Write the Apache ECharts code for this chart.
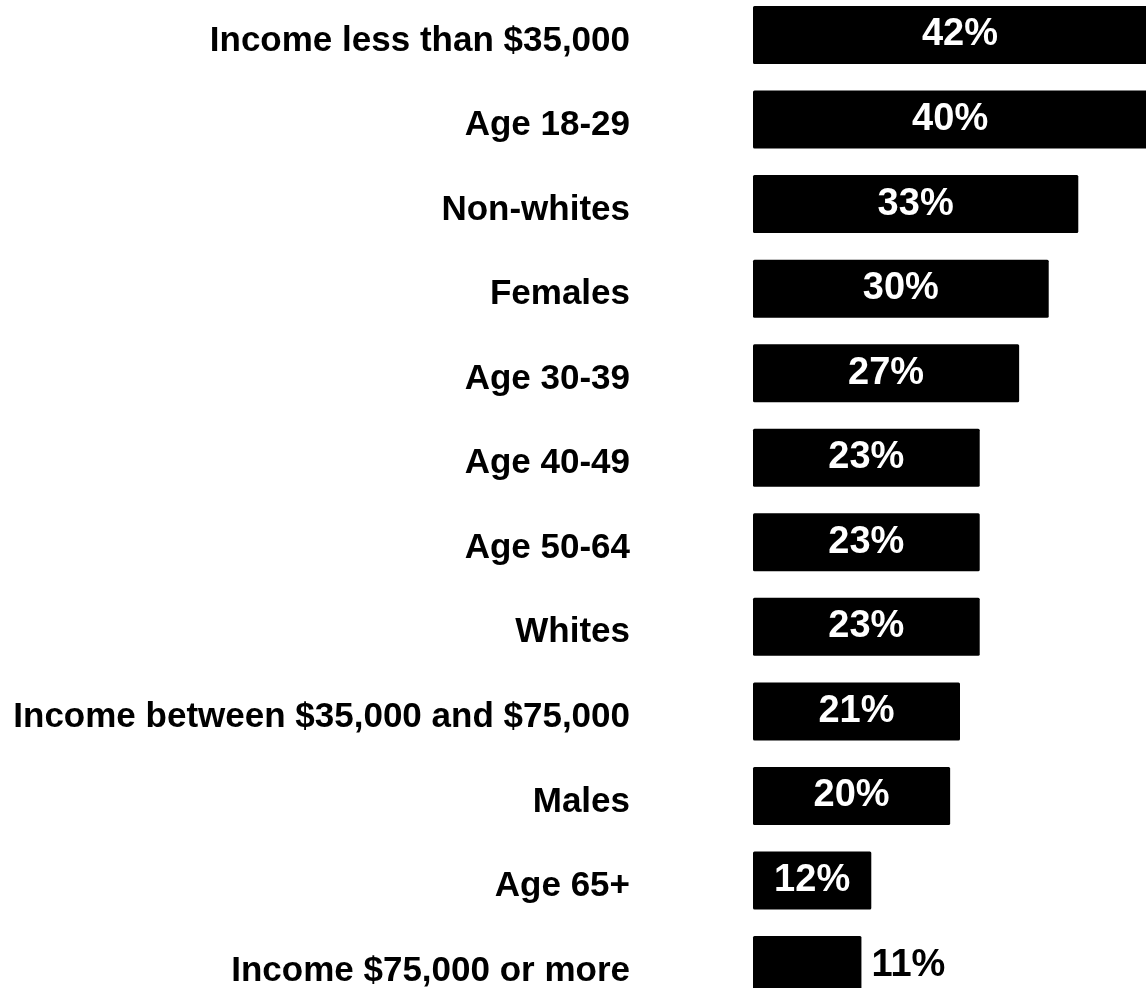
<!DOCTYPE html>
<html>
<head>
<meta charset="utf-8">
<title>Share by group</title>
<script src="https://cdn.jsdelivr.net/npm/echarts@6/dist/echarts.min.js"></script>
<style>
  html, body { margin: 0; padding: 0; background: #ffffff; }
  #chart { width: 1146px; height: 988px; }
</style>
</head>
<body>
<div id="chart"></div>
<script>
// Groups, top to bottom
const categories = [
  'Income less than $35,000',
  'Age 18-29',
  'Non-whites',
  'Females',
  'Age 30-39',
  'Age 40-49',
  'Age 50-64',
  'Whites',
  'Income between $35,000 and $75,000',
  'Males',
  'Age 65+',
  'Income $75,000 or more'
];

// Percent for each group
const values = [42, 40, 33, 30, 27, 23, 23, 23, 21, 20, 12, 11];

// Bars too short to hold their label get it on the outside
const outsideLabel = [false, false, false, false, false, false, false, false, false, false, false, true];

const FONT = '"Liberation Sans", Arial, Helvetica, sans-serif';

const chart = echarts.init(document.getElementById('chart'), null, { renderer: 'canvas' });

const seriesData = values.map((v, i) => ({
  value: v,
  label: outsideLabel[i]
    ? { position: 'right', distance: 10, color: '#000000' }
    : { position: 'inside', color: '#ffffff' }
}));

chart.setOption({
  animation: false,
  backgroundColor: '#ffffff',
  grid: {
    left: 753,
    top: -7.3,
    width: 414,
    height: 1014.6,
    containLabel: false,
    // the longest bars run past the right edge of the page and are cut off there
    outerBoundsMode: 'none'
  },
  xAxis: {
    type: 'value',
    min: 0,
    max: 42,
    show: false
  },
  yAxis: {
    type: 'category',
    inverse: true,
    data: categories,
    axisLine: { show: false },
    axisTick: { show: false },
    splitLine: { show: false },
    axisLabel: {
      margin: 123,
      color: '#000000',
      fontFamily: FONT,
      fontWeight: 'bold',
      fontSize: 35,
      align: 'right',
      verticalAlign: 'middle',
      formatter: (name) => '{g|' + name + '}',
      rich: {
        // group names sit a little below the middle of their bar
        g: {
          color: '#000000',
          fontFamily: FONT,
          fontWeight: 'bold',
          fontSize: 35,
          padding: [12, 0, 0, 0]
        }
      }
    }
  },
  series: [{
    type: 'bar',
    data: seriesData,
    barWidth: 58,
    itemStyle: { color: '#000000', borderRadius: 1.5 },
    label: {
      show: true,
      formatter: '{c}%',
      fontFamily: FONT,
      fontWeight: 'bold',
      fontSize: 38
    }
  }]
});
</script>
</body>
</html>
